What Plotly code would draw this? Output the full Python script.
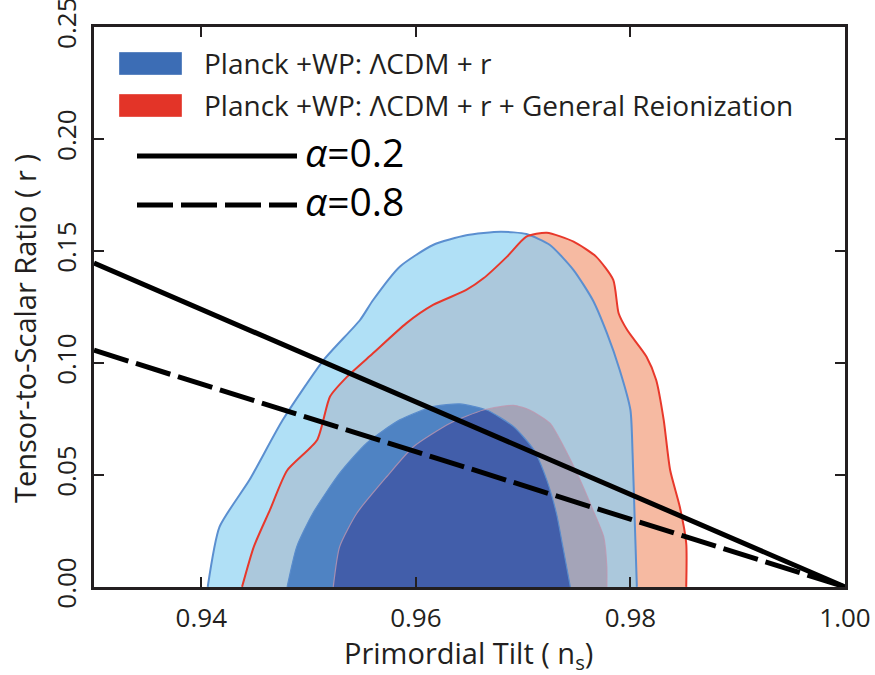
import numpy as np
import plotly.graph_objects as go

# ---------------- data ----------------
# Planck+WP: LCDM + r, 95% contour (upper boundary, left -> right)
blue95_ns = [0.9406, 0.9417, 0.9445, 0.9476, 0.9514, 0.9548, 0.9560, 0.9585, 0.9616, 0.9647,
             0.9679, 0.9703, 0.9725, 0.9747, 0.9765, 0.9778, 0.9790, 0.9800, 0.9802, 0.9804, 0.9806]
blue95_r = [0.0, 0.0268, 0.0478, 0.0746, 0.1013, 0.1192, 0.1280, 0.1430, 0.1527, 0.1570,
            0.1586, 0.1576, 0.1527, 0.1415, 0.1280, 0.1134, 0.0969, 0.0790, 0.0598, 0.0299, 0.0]

# Planck+WP: LCDM + r + General Reionization, 95% contour
red95_ns = [0.9438, 0.9449, 0.9464, 0.9480, 0.9508, 0.9520, 0.9536, 0.9560, 0.9591, 0.9616,
            0.9647, 0.9663, 0.9685, 0.9703, 0.9722, 0.9747, 0.9768, 0.9784, 0.9789, 0.9797,
            0.9815, 0.9824, 0.9831, 0.9837, 0.9846, 0.9852, 0.9852]
red95_r = [0.0, 0.0180, 0.0344, 0.0520, 0.0656, 0.0850, 0.0939, 0.1043, 0.1177, 0.1259,
           0.1326, 0.1378, 0.1475, 0.1564, 0.1582, 0.1542, 0.1475, 0.1371, 0.1222, 0.1147,
           0.1028, 0.0924, 0.0746, 0.0522, 0.0358, 0.0195, 0.0]

# 68% contours
blue68_ns = [0.9480, 0.9489, 0.9504, 0.9529, 0.9554, 0.9585, 0.9616, 0.9641, 0.9666, 0.9691,
             0.9710, 0.9722, 0.9731, 0.9737, 0.9744]
blue68_r = [0.0, 0.0180, 0.0329, 0.0508, 0.0642, 0.0746, 0.0805, 0.0817, 0.0790, 0.0716,
            0.0612, 0.0478, 0.0329, 0.0180, 0.0]

red68_ns = [0.9523, 0.9529, 0.9545, 0.9573, 0.9598, 0.9632, 0.9663, 0.9691, 0.9706, 0.9725,
            0.9741, 0.9753, 0.9765, 0.9775, 0.9778, 0.9778]
red68_r = [0.0, 0.0180, 0.0329, 0.0493, 0.0627, 0.0731, 0.0790, 0.0811, 0.0790, 0.0731,
           0.0597, 0.0478, 0.0344, 0.0225, 0.0090, 0.0]

# model lines
line_ns = [0.93, 1.00]
alpha02_r = [0.1446, 0.0]
alpha08_r = [0.1057, 0.0]

legend_labels = ["Planck +WP: \u039bCDM + r",
                 "Planck +WP: \u039bCDM + r + General Reionization"]
alpha_labels = ["<i>\u03b1</i>=0.2", "<i>\u03b1</i>=0.8"]

x_ticks = [0.94, 0.96, 0.98, 1.00]
x_ticktext = ["0.94", "0.96", "0.98", "1.00"]
y_ticks = [0.0, 0.05, 0.10, 0.15, 0.20, 0.25]
y_ticktext = ["0.00", "0.05", "0.10", "0.15", "0.20", "0.25"]

# ---------------- helpers ----------------
def overlap(xa, ya, xb, yb):
    """Region inside both x-monotone contours (points of each lying inside the other)."""
    xa, ya, xb, yb = map(np.asarray, (xa, ya, xb, yb))
    ina = ya <= np.interp(xa, xb, yb, left=-1, right=-1) + 1e-12
    inb = yb <= np.interp(xb, xa, ya, left=-1, right=-1) + 1e-12
    px = np.concatenate([xa[ina], xb[inb]])
    py = np.concatenate([ya[ina], yb[inb]])
    o = np.argsort(px, kind="stable")
    return px[o], py[o]

FONT = "Open Sans"
TXT = "#231f20"

fig = go.Figure()

def fill(x, y, color):
    fig.add_trace(go.Scatter(x=list(x), y=list(y), mode="lines", fill="toself",
                             fillcolor=color, line=dict(width=0, shape="spline", smoothing=0.6),
                             hoverinfo="skip", showlegend=False))

def edge(x, y, color, w):
    fig.add_trace(go.Scatter(x=list(x), y=list(y), mode="lines",
                             line=dict(color=color, width=w, shape="spline", smoothing=0.6),
                             hoverinfo="skip", showlegend=False))

ox95, oy95 = overlap(red95_ns, red95_r, blue95_ns, blue95_r)
ox68, oy68 = overlap(red68_ns, red68_r, blue68_ns, blue68_r)

fill(blue95_ns, blue95_r, "#b0e0f6")
fill(red95_ns, red95_r, "#f6baa2")
fill(ox95, oy95, "#abc8dc")
fill(red68_ns, red68_r, "#a4a4b8")
fill(blue68_ns, blue68_r, "#4f83c3")
fill(ox68, oy68, "#425eaa")

edge(blue95_ns, blue95_r, "#5b8fd0", 2)
edge(red95_ns, red95_r, "#e8382b", 2)
edge(blue68_ns, blue68_r, "#5a8ccc", 1.2)
edge(red68_ns, red68_r, "rgba(190,150,175,0.8)", 1.2)

fig.add_trace(go.Scatter(x=line_ns, y=alpha02_r, mode="lines",
                         line=dict(color="black", width=5), showlegend=False))
fig.add_trace(go.Scatter(x=line_ns, y=alpha08_r, mode="lines",
                         line=dict(color="black", width=5, dash="36px,8px"), showlegend=False))

# ---------------- custom legend ----------------
L, R, T, B = 94, 845, 27, 587
def px2x(p): return (p - L) / (R - L)
def px2y(p): return (B - p) / (B - T)

shapes = []
annotations = []
patch_colors = ["#3c6db5", "#e33428"]
patch_rows = [(52, 75), (94, 117)]
for (y0, y1), c, lab in zip(patch_rows, patch_colors, legend_labels):
    shapes.append(dict(type="rect", xref="paper", yref="paper",
                       x0=px2x(119), x1=px2x(182), y0=px2y(y1), y1=px2y(y0),
                       fillcolor=c, line=dict(color="rgba(255,255,255,0.35)", width=1)))
    annotations.append(dict(xref="paper", yref="paper", x=px2x(202), y=px2y((y0 + y1) / 2),
                            text=lab, showarrow=False, xanchor="left", yanchor="middle",
                            font=dict(family=FONT, size=28, color=TXT)))
line_rows = [(156, "solid"), (205, "36px,8px")]
for (yy, d), lab in zip(line_rows, alpha_labels):
    shapes.append(dict(type="line", xref="paper", yref="paper",
                       x0=px2x(137), x1=px2x(297), y0=px2y(yy), y1=px2y(yy),
                       line=dict(color="black", width=5, dash=d)))
    annotations.append(dict(xref="paper", yref="paper", x=px2x(303), y=px2y(yy - 5),
                            text=lab, showarrow=False, xanchor="left", yanchor="middle",
                            font=dict(family=FONT, size=39, color="black")))

# axis titles as annotations (fixed positions)
annotations.append(dict(xref="paper", yref="paper", x=px2x(468), y=px2y(654),
                        text="Primordial Tilt ( n<sub>s</sub>)", showarrow=False,
                        xanchor="center", yanchor="middle",
                        font=dict(family=FONT, size=29, color=TXT)))
annotations.append(dict(xref="paper", yref="paper", x=px2x(24), y=px2y(329),
                        text="Tensor-to-Scalar Ratio ( r )", showarrow=False, textangle=-90,
                        xanchor="center", yanchor="middle",
                        font=dict(family=FONT, size=29, color=TXT)))

fig.update_layout(
    width=875, height=675,
    margin=dict(l=L, r=875 - R, t=T, b=675 - B),
    paper_bgcolor="white", plot_bgcolor="white",
    shapes=shapes, annotations=annotations,
    showlegend=False,
    font=dict(family=FONT, color=TXT),
    xaxis=dict(range=[0.93, 1.00], tickvals=x_ticks, ticktext=x_ticktext,
               automargin=False, ticklabeloverflow="allow",
               showgrid=False, zeroline=False, showline=True, linewidth=3,
               linecolor="#231f20", mirror="ticks", ticks="inside", ticklen=10,
               tickwidth=1.5, tickcolor="#231f20",
               tickfont=dict(family=FONT, size=26, color=TXT),
               ticklabelstandoff=6),
    yaxis=dict(range=[-0.00005, 0.25005], tickvals=y_ticks, ticktext=y_ticktext,
               automargin=False, ticklabeloverflow="allow",
               showgrid=False, zeroline=False, showline=True, linewidth=3,
               linecolor="#231f20", mirror="ticks", ticks="inside", ticklen=10,
               tickwidth=1.5, tickcolor="#231f20", tickangle=-90,
               tickfont=dict(family=FONT, size=26, color=TXT),
               ticklabelstandoff=5),
)

fig.write_html("out.html", config={"displayModeBar": False},
               post_script="document.body.style.margin='0';")
